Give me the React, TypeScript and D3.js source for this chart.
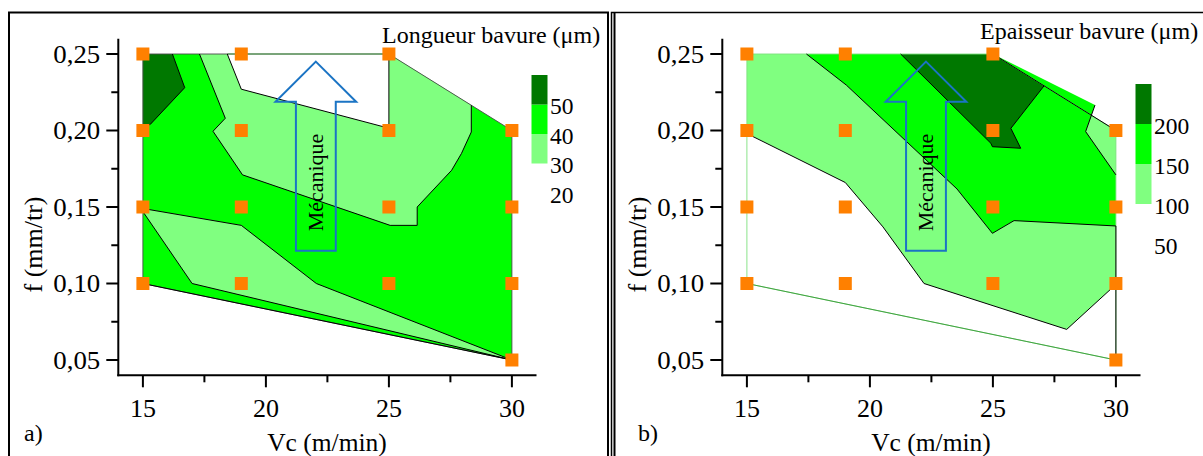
import React from "react";
import * as d3 from "d3";

type Pt = [number, number];

// ---------- axes ----------
const VC_MAJOR = [15, 20, 25, 30];
const VC_MINOR = [17.5, 22.5, 27.5];
const F_MAJOR = [0.05, 0.1, 0.15, 0.2, 0.25];
const F_MINOR = [0.075, 0.125, 0.175, 0.225];

// ---------- measured points ----------
const POINTS_VC = [15, 19, 25, 15, 19, 25, 30, 15, 19, 25, 30, 15, 19, 25, 30, 30];
const POINTS_F = [0.25, 0.25, 0.25, 0.2, 0.2, 0.2, 0.2, 0.15, 0.15, 0.15, 0.15, 0.1, 0.1, 0.1, 0.1, 0.05];

const HULL: Pt[] = [[15, 0.25], [25, 0.25], [30, 0.2], [30, 0.05], [15, 0.1]];

// ---------- a) Longueur bavure ----------
const LONG_LEVELS = [20, 30, 40, 50];
const LONG_DARK: Pt[] = [[15, 0.25], [16.2, 0.25], [16.7, 0.228], [15.3, 0.204], [15, 0.202]];
const LONG_LIGHT_UP: Pt[] = [
  [17.3, 0.25], [18.35, 0.208], [17.85, 0.1995], [19.05, 0.171], [25.05, 0.138], [26.15, 0.138],
  [26.15, 0.15], [27.55, 0.174], [27.95, 0.185], [28.35, 0.199], [28.35, 0.2165], [25, 0.25],
];
const LONG_WHITE: Pt[] = [[18.43, 0.25], [19.0, 0.227], [25, 0.2015], [25, 0.25]];
const LONG_LIGHT_LOW: Pt[] = [[15, 0.149], [19, 0.138], [22.05, 0.1], [30, 0.05], [17.0, 0.1], [15, 0.147]];
const LONG_REGIONS = [
  { band: 2, pts: HULL },
  { band: 3, pts: LONG_DARK },
  { band: 1, pts: LONG_LIGHT_UP },
  { band: 0, pts: LONG_WHITE },
  { band: 1, pts: LONG_LIGHT_LOW },
];
const LONG_LINES: Pt[][] = [
  [[16.2, 0.25], [16.7, 0.228], [15.3, 0.204], [15, 0.202]],
  LONG_LIGHT_UP.slice(0, 11),
  [[18.43, 0.25], [19.0, 0.227], [25, 0.2015], [25, 0.25]],
  [...LONG_LIGHT_LOW, LONG_LIGHT_LOW[0]],
  [[30, 0.05], [15, 0.1]],
];
const LONG_OPEN_EDGE: Pt[] = [[18.43, 0.25], [25, 0.25]];

// ---------- b) Epaisseur bavure ----------
const EP_LEVELS = [50, 100, 150, 200];
const EP_LIGHT: Pt[] = [
  [15, 0.25], [25, 0.25], [30, 0.2], [30, 0.1], [29.77, 0.096], [28.0, 0.07], [22.2, 0.1],
  [20.53, 0.137], [19.0, 0.166], [15, 0.198],
];
const EP_GREEN: Pt[] = [
  [17.42, 0.25], [25, 0.25], [29.15, 0.2166], [28.77, 0.1993], [30, 0.171], [30, 0.1376],
  [25.86, 0.1411], [24.98, 0.1328], [23.54, 0.1618], [19.04, 0.2297],
];
const EP_DARK: Pt[] = [
  [21.25, 0.25], [25, 0.25], [27.08, 0.2292], [25.73, 0.2014], [26.13, 0.1884], [24.98, 0.1894], [24.92, 0.1916],
];
const EP_REGIONS = [
  { band: 0, pts: HULL },
  { band: 1, pts: EP_LIGHT },
  { band: 2, pts: EP_GREEN },
  { band: 3, pts: EP_DARK },
];
const EP_LINES: Pt[][] = [
  [[15, 0.198], [19.0, 0.166], [20.53, 0.137], [22.2, 0.1], [28.0, 0.07], [29.77, 0.096], [30, 0.1]],
  [[30, 0.1376], [30, 0.05]],
  [[17.42, 0.25], [19.04, 0.2297], [23.54, 0.1618], [24.98, 0.1328], [25.86, 0.1411], [30, 0.1376]],
  [[29.15, 0.2166], [28.77, 0.1993], [30, 0.171]],
  [[21.25, 0.25], [24.92, 0.1916], [24.98, 0.1894], [26.13, 0.1884], [25.73, 0.2014], [27.08, 0.2292]],
  [[25, 0.25], [30, 0.2]],
];
const EP_OPEN_EDGE: Pt[] = [[15, 0.1], [30, 0.05]];

// ---------- "Mécanique" arrow (data units) ----------
const ARROW_F = [0.245, 0.2188, 0.1214]; // tip, head base, bottom
const ARROW_HALF = [1.64, 0.81]; // head, shaft half widths in Vc units

const BAND_COLORS = ["#FFFFFF", "#80FF80", "#00FF00", "#007800"];
const ORANGE = "#FF8000";
const BLUE = "#1B74C4";
const FONT = '"Liberation Serif", "DejaVu Serif", serif';

const fmtF = (v: number) => d3.format(".2f")(v).replace(".", ",");

type PanelProps = {
  dx: number;
  title: string;
  titleX: number;
  titleY: number;
  letter: string;
  letterX: number;
  levels: number[];
  regions: { band: number; pts: Pt[] }[];
  lines: Pt[][];
  openEdge: Pt[];
  arrowVc: number;
  legendRange: [number, number];
  hullStroke: string;
};

const TXT = { fontFamily: FONT };

function Panel(p: PanelProps) {
  const x = d3.scaleLinear().domain([14, 31]).range([118.3, 536.5]);
  const y = d3.scaleLinear().domain([0.04, 0.26]).range([375.3, 38.7]);
  const line = d3.line<Pt>().x((d) => x(d[0])).y((d) => y(d[1]));
  const poly = (pts: Pt[]) => line(pts) + "Z";

  const [x0, x1] = x.range();
  const [y0, y1] = y.range();

  const c = p.arrowVc;
  const [fTip, fHead, fBot] = ARROW_F;
  const [hw, sw] = ARROW_HALF;
  const arrowPts: Pt[] = [
    [c, fTip], [c + hw, fHead], [c + sw, fHead], [c + sw, fBot],
    [c - sw, fBot], [c - sw, fHead], [c - hw, fHead],
  ];

  const lv = p.levels;
  const step = lv[3] - lv[2];
  const top = lv[3] + step;
  const ly = d3.scaleLinear().domain([lv[0], top]).range(p.legendRange);
  const bands = [
    { from: lv[1], to: lv[2], color: BAND_COLORS[1] },
    { from: lv[2], to: lv[3], color: BAND_COLORS[2] },
    { from: lv[3], to: top, color: BAND_COLORS[3] },
  ];

  return (
    <g transform={`translate(${p.dx},0)`} fill="#000">
      {p.regions.map((r, i) => (
        <path key={"r" + i} d={poly(r.pts)} fill={BAND_COLORS[r.band]} stroke="none" />
      ))}
      <path d={poly(HULL)} fill="none" stroke={p.hullStroke} strokeWidth={0.9} />
      <path d={line(p.openEdge) || ""} fill="none" stroke="#3a9a3a" strokeWidth={0.9} />
      {p.lines.map((l, i) => (
        <path key={"l" + i} d={line(l) || ""} fill="none" stroke="#000" strokeWidth={1} />
      ))}

      {/* arrow */}
      <path d={poly(arrowPts)} fill="none" stroke={BLUE} strokeWidth={2} strokeLinejoin="miter" />
      <text
        transform={`translate(${x(c) + 7.5},${182.5}) rotate(-90)`}
        textAnchor="middle"
        fontSize={22}
        style={TXT}
      >
        Mécanique
      </text>

      {/* markers */}
      {POINTS_VC.map((v, i) => (
        <rect key={"m" + i} x={x(v) - 6.5} y={y(POINTS_F[i]) - 6.5} width={13} height={13} fill={ORANGE} />
      ))}

      {/* axes */}
      <line x1={x0} x2={x0} y1={y0 + 1} y2={y1} stroke="#000" strokeWidth={2} />
      <line x1={x0 - 1} x2={x1} y1={y0} y2={y0} stroke="#000" strokeWidth={2} />
      {F_MAJOR.map((f) => (
        <g key={"fy" + f}>
          <line x1={x0 - 12} x2={x0} y1={y(f)} y2={y(f)} stroke="#000" strokeWidth={2} />
          <text
            x={x0 - 65}
            y={y(f)}
            dy="0.34em"
            fontSize={25}
            textLength={47}
            lengthAdjust="spacingAndGlyphs"
            style={TXT}
          >
            {fmtF(f)}
          </text>
        </g>
      ))}
      {F_MINOR.map((f) => (
        <line key={"fm" + f} x1={x0 - 7} x2={x0} y1={y(f)} y2={y(f)} stroke="#000" strokeWidth={2} />
      ))}
      {VC_MAJOR.map((v) => (
        <g key={"vx" + v}>
          <line x1={x(v)} x2={x(v)} y1={y0} y2={y0 + 12} stroke="#000" strokeWidth={2} />
          <text x={x(v)} y={417} textAnchor="middle" fontSize={26} style={TXT}>
            {v}
          </text>
        </g>
      ))}
      {VC_MINOR.map((v) => (
        <line key={"vm" + v} x1={x(v)} x2={x(v)} y1={y0} y2={y0 + 7} stroke="#000" strokeWidth={2} />
      ))}
      <text x={327} y={451} textAnchor="middle" fontSize={25.5} style={TXT}>
        Vc (m/min)
      </text>
      <text transform={`translate(42,244.5) rotate(-90)`} textAnchor="middle" fontSize={26} style={TXT}>
        f (mm/tr)
      </text>
      <text x={p.letterX} y={441} fontSize={24} style={TXT}>
        {p.letter}
      </text>

      {/* legend */}
      <text x={p.titleX} y={p.titleY} fontSize={24} style={TXT}>
        {p.title}
      </text>
      {bands.map((b, i) => (
        <rect key={"b" + i} x={531.5} y={ly(b.to)} width={16} height={ly(b.from) - ly(b.to)} fill={b.color} />
      ))}
      {lv.map((l) => (
        <text key={"ll" + l} x={550} y={ly(l)} dy="0.42em" fontSize={23.5} style={TXT}>
          {l}
        </text>
      ))}
    </g>
  );
}

export default function App() {
  return (
    <svg
      width={1203}
      height={456}
      viewBox="0 0 1203 456"
      style={{ position: "absolute", left: 0, top: 0, display: "block", background: "#fff", fontFamily: FONT }}
    >
      <rect x={0} y={0} width={1203} height={456} fill="#fff" />
      {/* frames */}
      <path d="M9,460 V12.5 H608 V460" fill="none" stroke="#000" strokeWidth={2} />
      <path d="M611.5,460 V12.5 H1210" fill="none" stroke="#000" strokeWidth={1.5} />
      <path d="M614.5,460 V12.5" fill="none" stroke="#000" strokeWidth={2} />

      <Panel
        dx={0}
        title="Longueur bavure (μm)"
        titleX={382}
        titleY={43}
        letter="a)"
        letterX={24}
        levels={LONG_LEVELS}
        regions={LONG_REGIONS}
        lines={LONG_LINES}
        openEdge={LONG_OPEN_EDGE}
        arrowVc={22.03}
        legendRange={[193, 75]}
        hullStroke="#4a4a4a"
      />
      <Panel
        dx={604}
        title="Epaisseur bavure (μm)"
        titleX={376}
        titleY={39}
        letter="b)"
        letterX={34}
        levels={EP_LEVELS}
        regions={EP_REGIONS}
        lines={EP_LINES}
        openEdge={EP_OPEN_EDGE}
        arrowVc={22.28}
        legendRange={[244, 84]}
        hullStroke="#7ee07e"
      />
    </svg>
  );
}
